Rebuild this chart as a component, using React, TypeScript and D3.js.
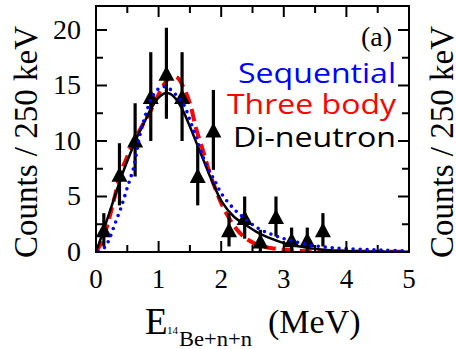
import React from "react";
import * as d3 from "d3";

// ---- data ----
const dataE = [0.125, 0.375, 0.625, 0.875, 1.125, 1.375, 1.625, 1.875, 2.125, 2.375, 2.625, 2.875, 3.125, 3.375, 3.625];
const dataCounts = [2.0, 7.0, 10.1, 14.0, 16.1, 14.0, 6.9, 11.0, 2.0, 3.1, 1.0, 3.2, 1.1, 1.1, 2.0];
const dataErr = [1.5, 2.8, 3.3, 4.0, 4.1, 4.0, 2.7, 3.6, 1.5, 1.9, 1.0, 1.8, 1.1, 1.1, 1.5];

const diE = [0, 0.1, 0.2, 0.3, 0.4, 0.5, 0.6, 0.7, 0.8, 0.9, 1.0, 1.1, 1.2, 1.3, 1.4, 1.5, 1.6, 1.7, 1.8, 1.9, 2.0, 2.2, 2.4, 2.6, 2.8, 3.0, 3.2, 3.4, 3.6, 3.8, 4.0, 4.5, 5.0];
const diV = [0, 1.6, 3.3, 5.0, 6.7, 8.2, 9.6, 10.9, 12.0, 13.1, 13.9, 14.3, 14.2, 13.6, 12.6, 11.3, 9.9, 8.5, 7.1, 5.8, 4.6, 3.2, 2.4, 1.7, 1.2, 0.8, 0.55, 0.35, 0.22, 0.14, 0.09, 0.04, 0.02];

const tbE = [0, 0.1, 0.2, 0.3, 0.4, 0.5, 0.6, 0.7, 0.8, 0.9, 1.0, 1.1, 1.2, 1.3, 1.4, 1.5, 1.6, 1.7, 1.8, 1.9, 2.0, 2.1, 2.2, 2.3, 2.4, 2.6, 2.8, 3.0, 3.3, 3.6, 4.0, 4.5, 5.0];
const tbV = [0, 1.0, 2.8, 5.0, 7.2, 8.6, 9.9, 11.0, 12.0, 13.0, 14.2, 15.2, 15.8, 15.7, 14.8, 13.4, 11.1, 9.3, 7.4, 5.8, 4.4, 3.3, 2.4, 1.7, 1.2, 0.6, 0.35, 0.2, 0.1, 0.06, 0.04, 0.02, 0.01];

const seqE = [0.05, 0.1, 0.15, 0.2, 0.3, 0.4, 0.5, 0.6, 0.7, 0.8, 0.9, 1.0, 1.1, 1.2, 1.3, 1.4, 1.5, 1.6, 1.7, 1.8, 1.9, 2.0, 2.2, 2.4, 2.6, 2.8, 3.0, 3.2, 3.4, 3.6, 3.8, 4.0, 4.3, 4.6, 5.0];
const seqV = [0, 0.2, 0.5, 1.0, 2.5, 4.0, 5.8, 7.6, 10.5, 12.5, 14.0, 14.7, 14.9, 14.6, 14.0, 13.3, 11.9, 10.3, 8.7, 7.4, 6.4, 5.3, 3.9, 2.9, 2.1, 1.6, 1.2, 0.9, 0.65, 0.48, 0.37, 0.3, 0.22, 0.16, 0.1];

const xMajor = [0, 1, 2, 3, 4, 5];
const xMinor = [0.5, 1.5, 2.5, 3.5, 4.5];
const yMajor = [0, 5, 10, 15, 20];
const yMinor = [2.5, 7.5, 12.5, 17.5];

const legendItems = [
  { label: "Sequential", color: "#0000ff" },
  { label: "Three body", color: "#ff0000" },
  { label: "Di-neutron", color: "#000000" },
];

export default function App() {
  const W = 456, H = 349;
  const x = d3.scaleLinear().domain([0, 5]).range([96, 409]);
  const y = d3.scaleLinear().domain([0, 22.16]).range([252, 6]);
  const serif = "'Liberation Serif', 'Times New Roman', serif";
  const sans = "'Open Sans', 'Noto Sans', sans-serif";

  const mk = (es: number[], vs: number[]) =>
    d3.line<number>().x((_, i) => x(es[i])).y((v) => y(v)).curve(d3.curveCatmullRom.alpha(0.5))(vs) || "";

  const tri = (cx: number, cy: number) => {
    const w = 8, h = 15;
    return `M${cx - w},${cy + h / 2} L${cx + w},${cy + h / 2} L${cx},${cy - h / 2} Z`;
  };

  const legendBaselines = [83, 114, 147];
  const legendLengths = [158, 169, 163];

  return (
    <svg width={W} height={H} style={{ position: "absolute", left: 0, top: 0, background: "#fff" }}>
      <defs>
        <clipPath id="plot">
          <rect x={96} y={6} width={313} height={246} />
        </clipPath>
      </defs>
      <rect width={W} height={H} fill="#fff" />

      {/* curves */}
      <g clipPath="url(#plot)">
        <path d={mk(tbE, tbV)} fill="none" stroke="#ff0000" strokeWidth={4} strokeDasharray="12 6" />
        <path d={mk(diE, diV)} fill="none" stroke="#000" strokeWidth={2.5} />
      </g>

      {/* data */}
      <g>
        {dataE.map((e, i) => (
          <g key={i}>
            <line x1={x(e)} x2={x(e)} y1={y(Math.max(0, dataCounts[i] - dataErr[i]))} y2={y(dataCounts[i] + dataErr[i])} stroke="#000" strokeWidth={3.2} />
            <path d={tri(x(e), y(dataCounts[i]))} fill="#000" />
          </g>
        ))}
      </g>

      <g clipPath="url(#plot)">
        <path d={mk(seqE, seqV)} fill="none" stroke="#0000ff" strokeWidth={3.6} strokeDasharray="0 7" strokeLinecap="round" />
      </g>

      {/* frame */}
      <rect x={96} y={6} width={313} height={246} fill="none" stroke="#000" strokeWidth={2} />
      {/* ticks */}
      {xMajor.map((t) => (
        <g key={"xm" + t}>
          <line x1={x(t)} x2={x(t)} y1={252} y2={241} stroke="#000" strokeWidth={2} />
          <line x1={x(t)} x2={x(t)} y1={6} y2={17} stroke="#000" strokeWidth={2} />
        </g>
      ))}
      {xMinor.map((t) => (
        <g key={"xn" + t}>
          <line x1={x(t)} x2={x(t)} y1={252} y2={245} stroke="#000" strokeWidth={2} />
          <line x1={x(t)} x2={x(t)} y1={6} y2={13} stroke="#000" strokeWidth={2} />
        </g>
      ))}
      {yMajor.map((t) => (
        <g key={"ym" + t}>
          <line x1={96} x2={107} y1={y(t)} y2={y(t)} stroke="#000" strokeWidth={2} />
          <line x1={409} x2={398} y1={y(t)} y2={y(t)} stroke="#000" strokeWidth={2} />
        </g>
      ))}
      {yMinor.map((t) => (
        <g key={"yn" + t}>
          <line x1={96} x2={103} y1={y(t)} y2={y(t)} stroke="#000" strokeWidth={2} />
          <line x1={409} x2={402} y1={y(t)} y2={y(t)} stroke="#000" strokeWidth={2} />
        </g>
      ))}

      {/* tick labels */}
      {yMajor.map((t) => (
        <text key={"yl" + t} x={81} y={y(t) + 9} textAnchor="end" fontFamily={serif} fontSize={28} fill="#000">
          {t}
        </text>
      ))}
      {xMajor.map((t) => (
        <text key={"xl" + t} x={x(t)} y={288} textAnchor="middle" fontFamily={serif} fontSize={27} fill="#000">
          {t}
        </text>
      ))}

      {/* axis labels */}
      <text transform="translate(37,142) rotate(-90)" textAnchor="middle" fontFamily={serif} fontSize={33} fill="#000">
        Counts / 250 keV
      </text>
      <text transform="translate(453,142) rotate(-90)" textAnchor="middle" fontFamily={serif} fontSize={33} fill="#000">
        Counts / 250 keV
      </text>
      <text x={145} y={334} fontFamily={serif} fontSize={37} fill="#000">E</text>
      <text x={167} y={334} fontFamily={serif} fontSize={11} fill="#000">14</text>
      <text x={179} y={346} fontFamily={serif} fontSize={20} fill="#000" textLength={73} lengthAdjust="spacingAndGlyphs">Be+n+n</text>
      <text x={268} y={333} fontFamily={serif} fontSize={34} fill="#000">(MeV)</text>

      {/* panel label */}
      <text x={392} y={46} textAnchor="end" fontFamily={serif} fontSize={28} fill="#000">(a)</text>

      {/* legend */}
      {legendItems.map((it, i) => (
        <text key={it.label} x={396 - legendLengths[i]} y={legendBaselines[i]} fontFamily={sans} fontSize={28} fill={it.color}
          textLength={legendLengths[i]} lengthAdjust="spacingAndGlyphs">
          {it.label}
        </text>
      ))}
    </svg>
  );
}
